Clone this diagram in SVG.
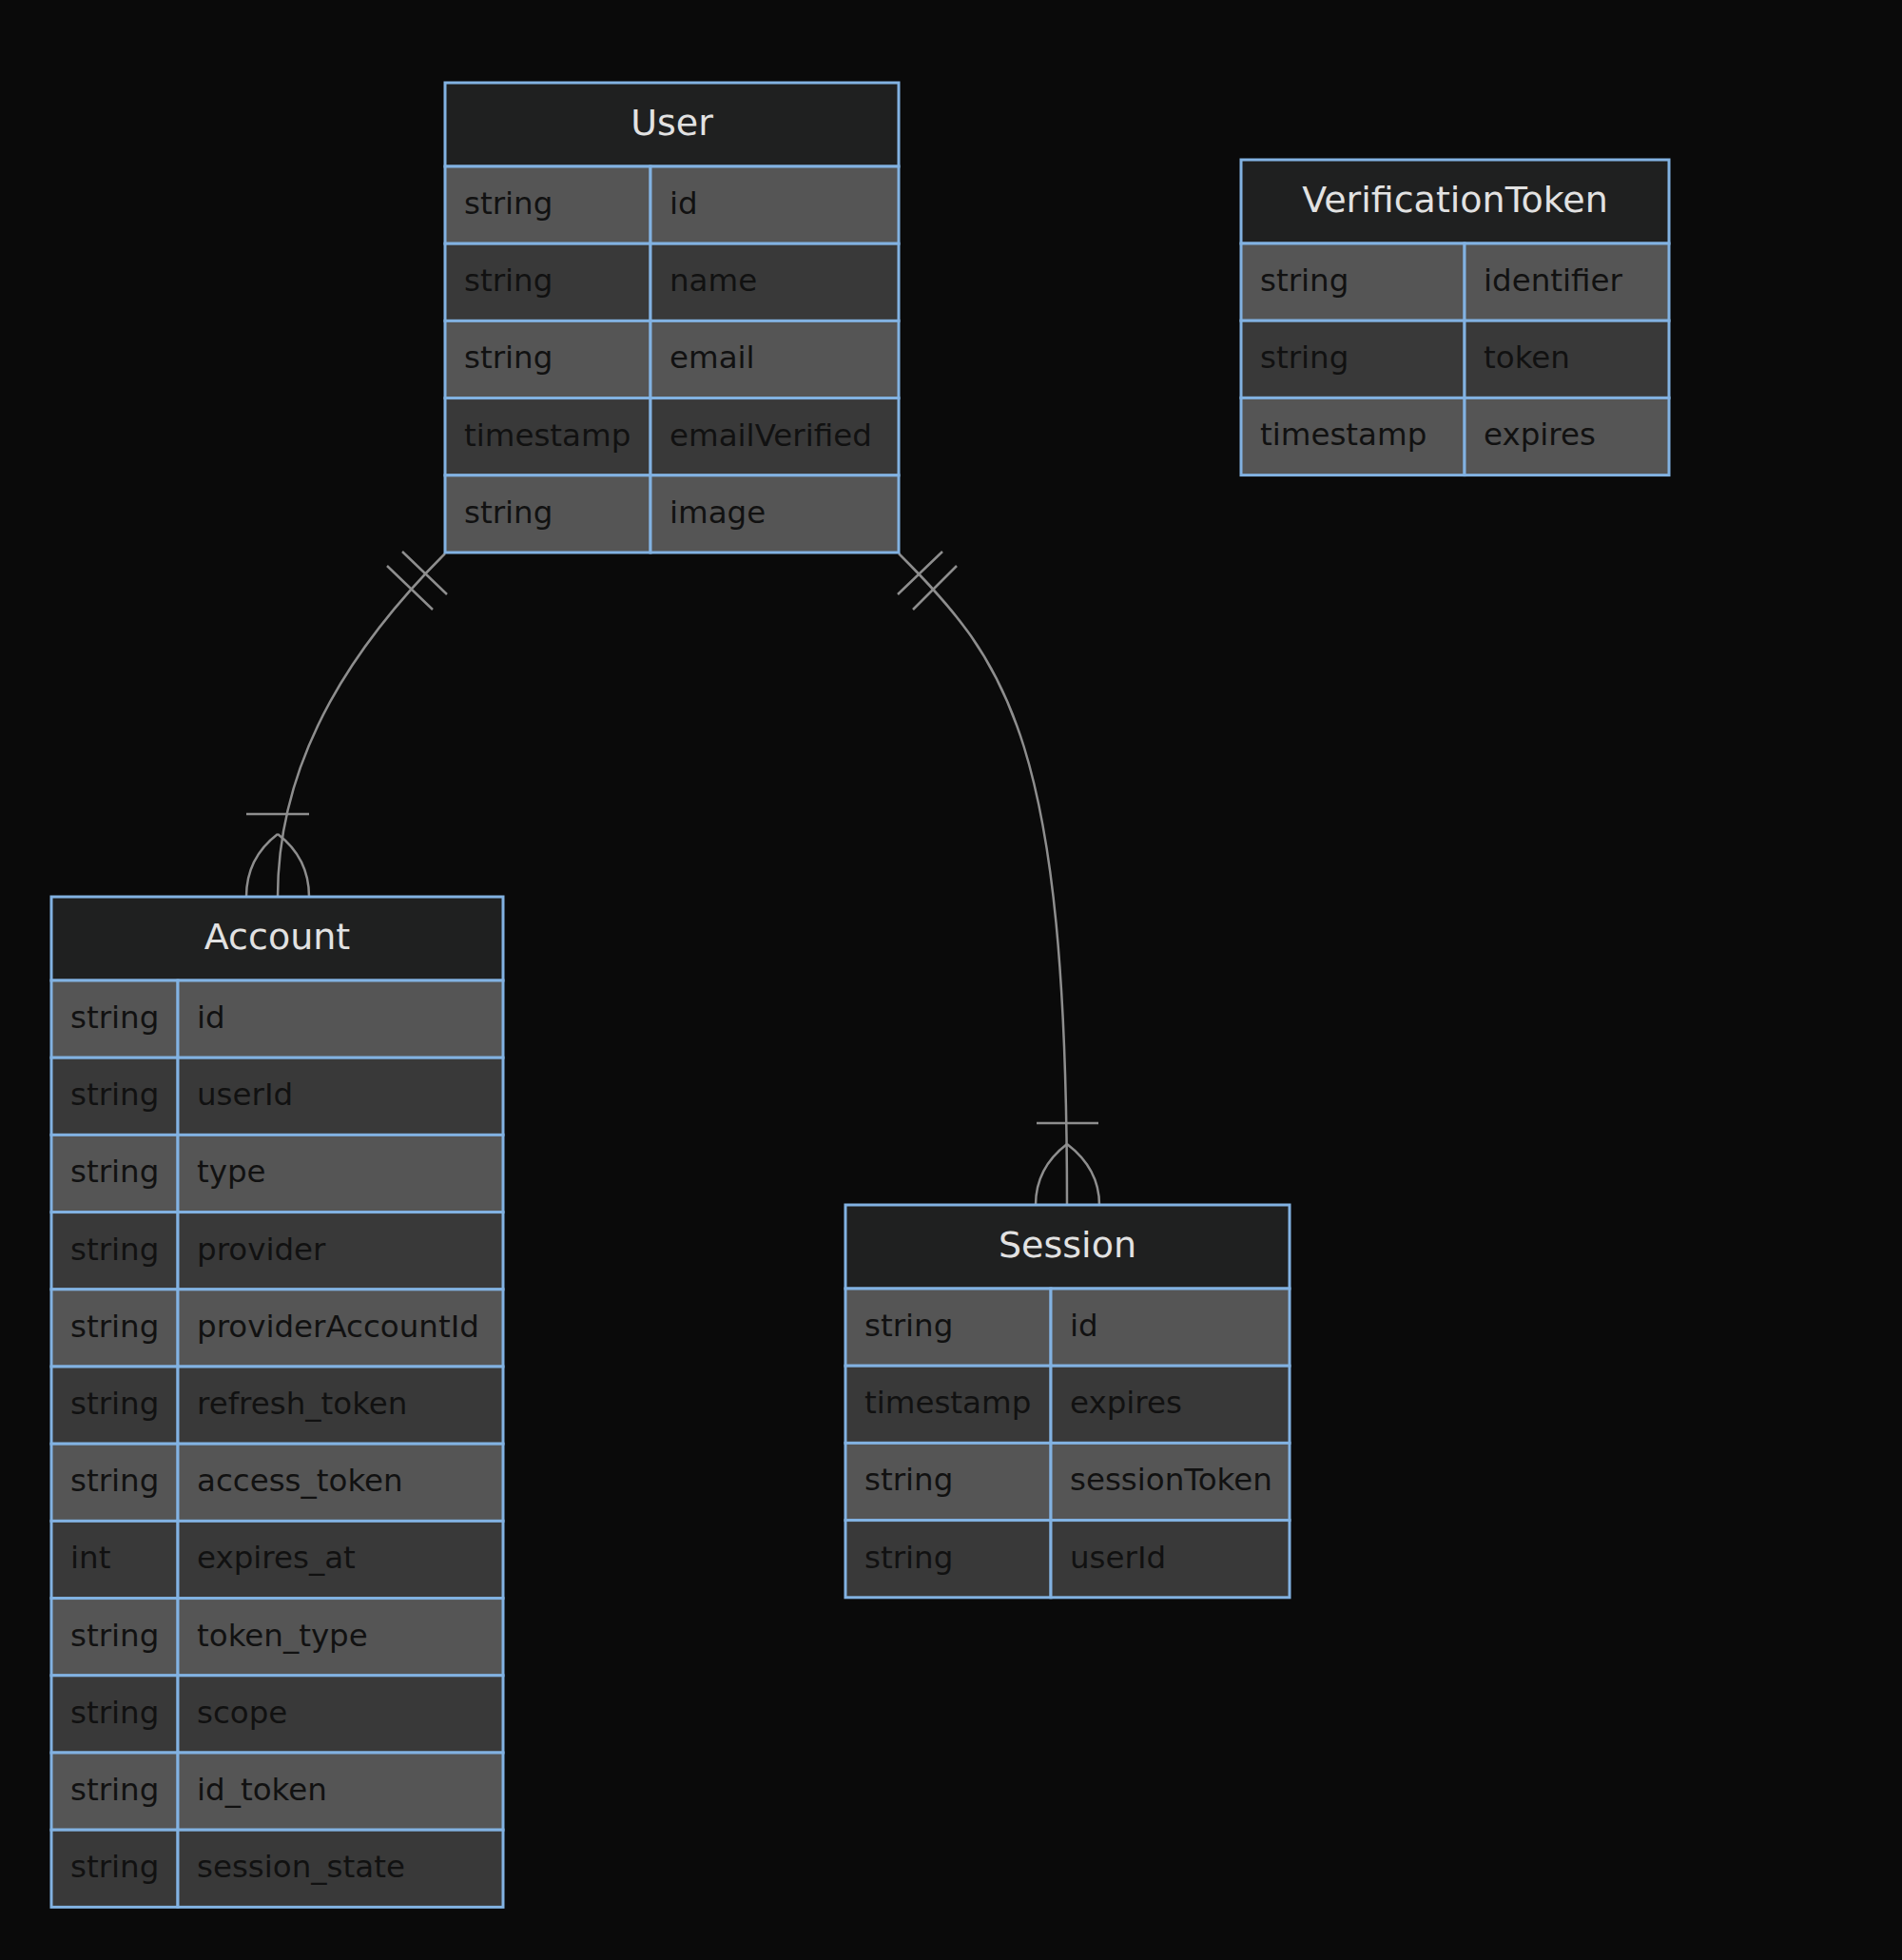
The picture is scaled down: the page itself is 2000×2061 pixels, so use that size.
<svg xmlns="http://www.w3.org/2000/svg" width="2000" height="2061" viewBox="0 0 2000 2061">
<style>
.bg{fill:#0a0a0a}
.hd{fill:#1f2020;stroke:#82b2e2;stroke-width:3}
.r1{fill:#555555;stroke:#82b2e2;stroke-width:3}
.r2{fill:#393939;stroke:#82b2e2;stroke-width:3}
.ht{font-family:"DejaVu Sans",Verdana,sans-serif;font-size:38px;fill:#e2e2e2;text-anchor:middle}
.t{font-family:"DejaVu Sans",Verdana,sans-serif;font-size:32.5px;fill:#111111}
.c{fill:none;stroke:#8e8e8e;stroke-width:2.5}
</style>
<rect class="bg" x="0" y="0" width="2000" height="2061"/>
<g id="connectors">
<path class="c" d="M468,582 C380,670 292,790 292,943"/>
<path class="c" d="M423,580 L470,625 M407,595 L455,641"/>
<path class="c" d="M259,856 L325,856 M292,877 C275,890 259,910 259,943 M292,877 C309,890 325,910 325,943"/>
<path class="c" d="M945,582 C1060,697 1122,780 1122,1267"/>
<path class="c" d="M991,580 L944,625 M1006,595 L960,641"/>
<path class="c" d="M1090,1181 L1155,1181 M1122,1203 C1105,1216 1089,1236 1089,1267 M1122,1203 C1139,1216 1156,1236 1156,1267"/>
</g>
<g id="User">
<rect class="hd" x="468" y="87" width="477" height="88"/>
<text class="ht" x="706.5" y="142">User</text>
<rect class="r1" x="468" y="175" width="216" height="81.2"/><rect class="r1" x="684" y="175" width="261" height="81.2"/>
<rect class="r2" x="468" y="256.2" width="216" height="81.2"/><rect class="r2" x="684" y="256.2" width="261" height="81.2"/>
<rect class="r1" x="468" y="337.4" width="216" height="81.2"/><rect class="r1" x="684" y="337.4" width="261" height="81.2"/>
<rect class="r2" x="468" y="418.6" width="216" height="81.2"/><rect class="r2" x="684" y="418.6" width="261" height="81.2"/>
<rect class="r1" x="468" y="499.8" width="216" height="81.2"/><rect class="r1" x="684" y="499.8" width="261" height="81.2"/>
<text class="t" x="488" y="225">string</text><text class="t" x="704" y="225">id</text>
<text class="t" x="488" y="306.2">string</text><text class="t" x="704" y="306.2">name</text>
<text class="t" x="488" y="387.4">string</text><text class="t" x="704" y="387.4">email</text>
<text class="t" x="488" y="468.6">timestamp</text><text class="t" x="704" y="468.6">emailVerified</text>
<text class="t" x="488" y="549.8">string</text><text class="t" x="704" y="549.8">image</text>
</g>
<g id="VerificationToken">
<rect class="hd" x="1305" y="168" width="450" height="88"/>
<text class="ht" x="1530" y="223">VerificationToken</text>
<rect class="r1" x="1305" y="256" width="235" height="81.2"/><rect class="r1" x="1540" y="256" width="215" height="81.2"/>
<rect class="r2" x="1305" y="337.2" width="235" height="81.2"/><rect class="r2" x="1540" y="337.2" width="215" height="81.2"/>
<rect class="r1" x="1305" y="418.4" width="235" height="81.2"/><rect class="r1" x="1540" y="418.4" width="215" height="81.2"/>
<text class="t" x="1325" y="306">string</text><text class="t" x="1560" y="306">identifier</text>
<text class="t" x="1325" y="387.2">string</text><text class="t" x="1560" y="387.2">token</text>
<text class="t" x="1325" y="468.4">timestamp</text><text class="t" x="1560" y="468.4">expires</text>
</g>
<g id="Account">
<rect class="hd" x="54" y="943" width="475" height="88"/>
<text class="ht" x="291.5" y="998">Account</text>
<rect class="r1" x="54" y="1031" width="133" height="81.2"/><rect class="r1" x="187" y="1031" width="342" height="81.2"/>
<rect class="r2" x="54" y="1112.2" width="133" height="81.2"/><rect class="r2" x="187" y="1112.2" width="342" height="81.2"/>
<rect class="r1" x="54" y="1193.4" width="133" height="81.2"/><rect class="r1" x="187" y="1193.4" width="342" height="81.2"/>
<rect class="r2" x="54" y="1274.6" width="133" height="81.2"/><rect class="r2" x="187" y="1274.6" width="342" height="81.2"/>
<rect class="r1" x="54" y="1355.8" width="133" height="81.2"/><rect class="r1" x="187" y="1355.8" width="342" height="81.2"/>
<rect class="r2" x="54" y="1437" width="133" height="81.2"/><rect class="r2" x="187" y="1437" width="342" height="81.2"/>
<rect class="r1" x="54" y="1518.2" width="133" height="81.2"/><rect class="r1" x="187" y="1518.2" width="342" height="81.2"/>
<rect class="r2" x="54" y="1599.4" width="133" height="81.2"/><rect class="r2" x="187" y="1599.4" width="342" height="81.2"/>
<rect class="r1" x="54" y="1680.6" width="133" height="81.2"/><rect class="r1" x="187" y="1680.6" width="342" height="81.2"/>
<rect class="r2" x="54" y="1761.8" width="133" height="81.2"/><rect class="r2" x="187" y="1761.8" width="342" height="81.2"/>
<rect class="r1" x="54" y="1843" width="133" height="81.2"/><rect class="r1" x="187" y="1843" width="342" height="81.2"/>
<rect class="r2" x="54" y="1924.2" width="133" height="81.2"/><rect class="r2" x="187" y="1924.2" width="342" height="81.2"/>
<text class="t" x="74" y="1081">string</text><text class="t" x="207" y="1081">id</text>
<text class="t" x="74" y="1162.2">string</text><text class="t" x="207" y="1162.2">userId</text>
<text class="t" x="74" y="1243.4">string</text><text class="t" x="207" y="1243.4">type</text>
<text class="t" x="74" y="1324.6">string</text><text class="t" x="207" y="1324.6">provider</text>
<text class="t" x="74" y="1405.8">string</text><text class="t" x="207" y="1405.8">providerAccountId</text>
<text class="t" x="74" y="1487">string</text><text class="t" x="207" y="1487">refresh_token</text>
<text class="t" x="74" y="1568.2">string</text><text class="t" x="207" y="1568.2">access_token</text>
<text class="t" x="74" y="1649.4">int</text><text class="t" x="207" y="1649.4">expires_at</text>
<text class="t" x="74" y="1730.6">string</text><text class="t" x="207" y="1730.6">token_type</text>
<text class="t" x="74" y="1811.8">string</text><text class="t" x="207" y="1811.8">scope</text>
<text class="t" x="74" y="1893">string</text><text class="t" x="207" y="1893">id_token</text>
<text class="t" x="74" y="1974.2">string</text><text class="t" x="207" y="1974.2">session_state</text>
</g>
<g id="Session">
<rect class="hd" x="889" y="1267" width="467" height="88"/>
<text class="ht" x="1122.5" y="1322">Session</text>
<rect class="r1" x="889" y="1355" width="216" height="81.2"/><rect class="r1" x="1105" y="1355" width="251" height="81.2"/>
<rect class="r2" x="889" y="1436.2" width="216" height="81.2"/><rect class="r2" x="1105" y="1436.2" width="251" height="81.2"/>
<rect class="r1" x="889" y="1517.4" width="216" height="81.2"/><rect class="r1" x="1105" y="1517.4" width="251" height="81.2"/>
<rect class="r2" x="889" y="1598.6" width="216" height="81.2"/><rect class="r2" x="1105" y="1598.6" width="251" height="81.2"/>
<text class="t" x="909" y="1405">string</text><text class="t" x="1125" y="1405">id</text>
<text class="t" x="909" y="1486.2">timestamp</text><text class="t" x="1125" y="1486.2">expires</text>
<text class="t" x="909" y="1567.4">string</text><text class="t" x="1125" y="1567.4">sessionToken</text>
<text class="t" x="909" y="1648.6">string</text><text class="t" x="1125" y="1648.6">userId</text>
</g>
</svg>
